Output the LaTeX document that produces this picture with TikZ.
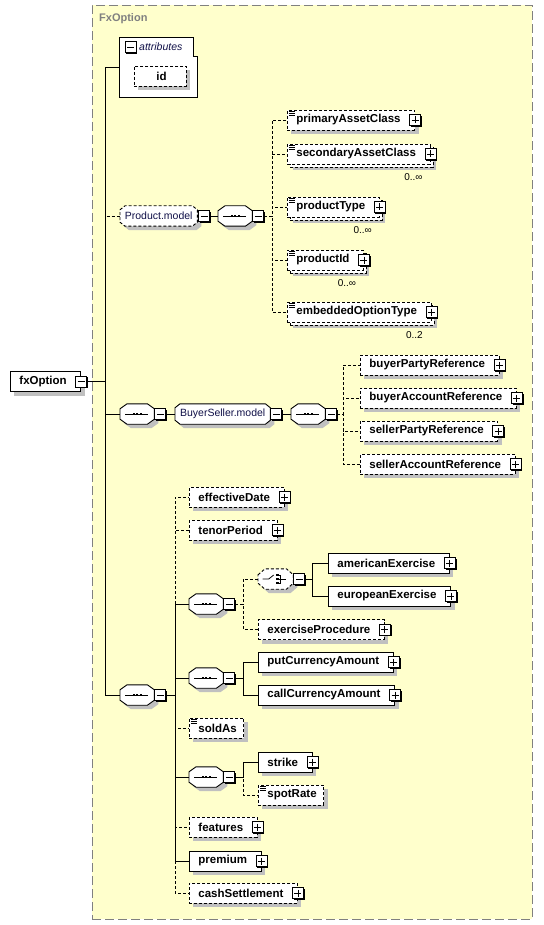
\documentclass[tikz,border=0pt]{standalone}
\usepackage{fontspec}
\setmainfont{Liberation Sans}
\usepackage{tikz}
\usetikzlibrary{shadows,positioning,calc}

\definecolor{typebg}{RGB}{255,255,204}
\definecolor{typeline}{RGB}{128,128,128}
\definecolor{shadowgray}{RGB}{192,192,192}
\definecolor{grpblue}{RGB}{16,16,72}

\pgfdeclarelayer{back}
\pgfdeclarelayer{shape}
\pgfsetlayers{back,shape,main}

\newcommand{\rpad}{7pt}

% octagon behind a compositor / group node: style, node, x cut, y cut
\newcommand{\octa}[4][]{%
  \begin{pgfonlayer}{shape}
    \draw[line,fill=white,shd,#1] ($(#2.north west)+(0,#4)$) -- ($(#2.north west)+(#3,0)$)
      -- ($(#2.north east)+(-#3,0)$) -- ($(#2.north east)+(0,#4)$)
      -- ($(#2.south east)+(0,-#4)$) -- ($(#2.south east)+(-#3,0)$)
      -- ($(#2.south west)+(#3,0)$) -- ($(#2.south west)+(0,-#4)$) -- cycle;
  \end{pgfonlayer}}

% sequence symbol
\newcommand{\seqsym}[1]{%
  \octa{#1}{7}{5}
  \begin{pgfonlayer}{shape}
    \draw[line width=0.8pt] ($(#1.center)+(-12,0)$) -- ($(#1.center)+(11,0)$);
    \foreach \k in {-3.4,0,3.4}
      \fill ($(#1.center)+(\k,0)$) +(-1.1,-1.1) rectangle +(1.1,1.1);
  \end{pgfonlayer}}

% choice symbol
\newcommand{\chsym}[1]{%
  \octa[dsh]{#1}{7}{6}
  \begin{pgfonlayer}{shape}
    \draw[line width=0.8pt] ($(#1.center)+(-13,0)$) -- ($(#1.center)+(-7,0)$) -- ($(#1.center)+(-2,-4)$);
    \foreach \k in {-4,0,4}
      \fill ($(#1.center)+(1.7,\k)$) +(-1.2,-1.2) rectangle +(1.2,1.2);
    \draw[line width=0.8pt] ($(#1.center)+(3,-4)$) -- ($(#1.center)+(5,-4)$) -- ($(#1.center)+(5,4)$) -- ($(#1.center)+(3,4)$);
    \draw[line width=0.8pt] ($(#1.center)+(3,0)$) -- ($(#1.center)+(10,0)$);
  \end{pgfonlayer}}

\tikzset{
  dsh/.style={dash pattern=on 3pt off 2pt},
  line/.style={draw=black,line width=0.9pt},
  optline/.style={line,dsh},
  shd/.style={drop shadow={shadow xshift=4pt,shadow yshift=-4pt,fill=shadowgray,opacity=1}},
  box/.style={rectangle,fill=white,minimum height=20,inner xsep=0pt,inner ysep=0pt,anchor=west,
    line width=0.9pt,font=\fontsize{11.5}{13}\selectfont\bfseries,
    execute at begin node=\hspace*{9pt},execute at end node=\hspace*{\rpad}},
  hasplus/.code={\renewcommand{\rpad}{14pt}},
  req/.style={box,draw,shd},
  opt/.style={box,draw,dsh,shd},
  multi/.style={box,draw,dsh,
    drop shadow={shadow xshift=6pt,shadow yshift=-6pt,fill=shadowgray,opacity=1},
    preaction={draw,dsh,line width=0.9pt,fill=white,transform canvas={shift={(3pt,-3pt)}}}},
  simple/.style={path picture={
    \foreach \k in {1.5,3.5,5.5}
      \draw[solid,line width=0.8pt] (path picture bounding box.north west) ++(1.5,\k) -- ++(6,0);}},
  pmbox/.style={rectangle,draw,fill=white,minimum size=11,inner sep=0pt,line width=0.8pt,
    drop shadow={shadow xshift=1.3pt,shadow yshift=-1.3pt,fill=black,opacity=1}},
  plusb/.style={pmbox,path picture={
    \draw (path picture bounding box.center) ++(-3.5,0) -- ++(7,0);
    \draw (path picture bounding box.center) ++(0,-3.5) -- ++(0,7);}},
  minusb/.style={pmbox,path picture={
    \draw (path picture bounding box.center) ++(-3.5,0) -- ++(7,0);}},
  comp/.style={rectangle,minimum width=34,minimum height=20,inner sep=0pt,anchor=west},
  grp/.style={comp,minimum width=77,text=grpblue,font=\fontsize{10.5}{12}\selectfont},
  card/.style={inner sep=0pt,font=\fontsize{10}{12}\selectfont},
  typebox/.style={draw=typeline,fill=typebg,line width=0.9pt,dash pattern=on 9pt off 4pt,
    minimum width=440,minimum height=914,inner sep=0pt}
}

\begin{document}
\begin{tikzpicture}[x=1pt,y=-1pt]
  \useasboundingbox (0,0) rectangle (543,925);

  % complex type
  \begin{pgfonlayer}{back}
    \node[typebox] (fxo) at (312,462) {};
  \end{pgfonlayer}
  \node[anchor=west,inner sep=0pt,text=typeline,font=\fontsize{11}{13}\selectfont\bfseries] (fxo-l) at (99,19) {FxOption};

  % root element
  \node[req,hasplus] (fx) at (10,381.5) {fxOption};
  \node[minusb] (fx-x) at (fx.east) {};

  % attributes
  \node[minimum width=77,minimum height=59,inner sep=0pt] (attr) at (158.5,67.5) {};
  \draw[line,fill=white] (attr.south west) |- ($(attr.north east)+(-4,0)$) |- ($(attr.north east)+(0,19)$) -- (attr.south east) -- cycle;
  \node[minusb] (attr-x) at (130.5,47) {};
  \node[anchor=west,inner sep=0pt,text=grpblue,font=\fontsize{10.5}{12}\selectfont\itshape] (attr-l) at (139,47) {attributes};
  \node[opt,minimum width=52] (id) at (134,76) {id};

  % Product.model
  \node[grp] (pm) at (120,216) {Product.model};
  \octa[dsh]{pm}{5}{4}
  \node[minusb,anchor=west] (pm-x) at ([xshift=1pt]pm.east) {};
  \node[comp] (pms) at (218,216) {};
  \seqsym{pms}
  \node[minusb,anchor=west] (pms-x) at (pms.east) {};
  \coordinate (pms-t) at (272,216);

  \node[opt,simple,hasplus] (pac) at (287,120) {primaryAssetClass};
  \node[plusb] (pac-x) at (pac.east) {};
  \node[multi,simple,hasplus] (sac) at (287,154) {secondaryAssetClass};
  \node[plusb] (sac-x) at (sac.east) {};
  \node[card] (sac-c) at ($(sac.south east)+(-17,12.5)$) {0..∞};
  \node[multi,simple,hasplus] (pt) at (287,207) {productType};
  \node[plusb] (pt-x) at (pt.east) {};
  \node[card] (pt-c) at ($(pt.south east)+(-17,12.5)$) {0..∞};
  \node[multi,simple,hasplus] (pid) at (287,260) {productId};
  \node[plusb] (pid-x) at (pid.east) {};
  \node[card] (pid-c) at ($(pid.south east)+(-17,12.5)$) {0..∞};
  \node[multi,simple,hasplus] (eot) at (287,312) {embeddedOptionType};
  \node[plusb] (eot-x) at (eot.east) {};
  \node[card] (eot-c) at ($(eot.south east)+(-17,12.5)$) {0..2};

  % BuyerSeller.model
  \node[comp] (bs) at (120,414) {};
  \seqsym{bs}
  \node[minusb,anchor=west] (bs-x) at (bs.east) {};
  \node[grp,minimum width=95] (bsm) at (175,414) {BuyerSeller.model};
  \octa{bsm}{5}{4}
  \node[minusb,anchor=west] (bsm-x) at (bsm.east) {};
  \node[comp] (bss) at (291,414) {};
  \seqsym{bss}
  \node[minusb,anchor=west] (bss-x) at (bss.east) {};
  \coordinate (bss-t) at (343,414);

  \node[opt,hasplus] (bpr) at (360,365) {buyerPartyReference};
  \node[plusb] (bpr-x) at (bpr.east) {};
  \node[opt,hasplus] (bar) at (360,398) {buyerAccountReference};
  \node[plusb] (bar-x) at (bar.east) {};
  \node[opt,hasplus] (spr) at (360,431) {sellerPartyReference};
  \node[plusb] (spr-x) at (spr.east) {};
  \node[opt,hasplus] (sar) at (360,464) {sellerAccountReference};
  \node[plusb] (sar-x) at (sar.east) {};

  % option terms
  \node[comp] (sq) at (120,695) {};
  \seqsym{sq}
  \node[minusb,anchor=west] (sq-x) at (sq.east) {};
  \coordinate (sq-t) at (175,695);

  \node[opt,hasplus] (ed) at (189,497) {effectiveDate};
  \node[plusb] (ed-x) at (ed.east) {};
  \node[opt,hasplus] (tp) at (189,530) {tenorPeriod};
  \node[plusb] (tp-x) at (tp.east) {};

  \node[comp] (sqa) at (189,604) {};
  \seqsym{sqa}
  \node[minusb,anchor=west] (sqa-x) at (sqa.east) {};
  \coordinate (sqa-t) at (243,604);
  \node[comp,minimum width=35] (ch) at (258,579) {};
  \chsym{ch}
  \node[minusb,anchor=west] (ch-x) at (ch.east) {};
  \coordinate (ch-t) at (312,579);
  \node[req,hasplus] (ae) at (328,563) {americanExercise};
  \node[plusb] (ae-x) at (ae.east) {};
  \node[req,hasplus] (ee) at (328,596) {europeanExercise};
  \node[plusb] (ee-x) at (ee.east) {};
  \node[opt,hasplus] (ep) at (258,629.5) {exerciseProcedure};
  \node[plusb] (ep-x) at (ep.east) {};

  \node[comp] (sqb) at (189,678) {};
  \seqsym{sqb}
  \node[minusb,anchor=west] (sqb-x) at (sqb.east) {};
  \coordinate (sqb-t) at (243,678);
  \node[req,hasplus] (pca) at (258,662) {putCurrencyAmount};
  \node[plusb] (pca-x) at (pca.east) {};
  \node[req,hasplus] (cca) at (258,695) {callCurrencyAmount};
  \node[plusb] (cca-x) at (cca.east) {};

  \node[opt,simple] (sa) at (189,728) {soldAs};

  \node[comp] (sqc) at (189,777) {};
  \seqsym{sqc}
  \node[minusb,anchor=west] (sqc-x) at (sqc.east) {};
  \coordinate (sqc-t) at (243,777);
  \node[req,hasplus] (sk) at (258,762) {strike};
  \node[plusb] (sk-x) at (sk.east) {};
  \node[opt,simple] (sr) at (258,795) {spotRate};

  \node[opt,hasplus] (ft) at (189,827) {features};
  \node[plusb] (ft-x) at (ft.east) {};
  \node[req,hasplus] (pr) at (189,861) {premium};
  \node[plusb] (pr-x) at (pr.east) {};
  \node[opt,hasplus] (cs) at (189,893) {cashSettlement};
  \node[plusb] (cs-x) at (cs.east) {};

  % connectors
  \coordinate (fx-t) at (105,381.5);
  \draw[optline] (fx-x.east) -- (fx-t) |- (pm.west);
  \draw[line] (fx-x.east) -- (fx-t) |- (attr.west);
  \draw[line] (fx-x.east) -- (fx-t) |- (bs.west);
  \draw[line] (fx-x.east) -- (fx-t) |- (sq.west);

  \draw[line] (pm-x.east) -- (pms.west);
  \foreach \c in {pac,sac,pt,pid,eot}
    \draw[optline] (pms-x.east) -- (pms-t) |- (\c.west);

  \draw[line] (bs-x.east) -- (bsm.west);
  \draw[line] (bsm-x.east) -- (bss.west);
  \foreach \c in {bpr,bar,spr,sar}
    \draw[optline] (bss-x.east) -- (bss-t) |- (\c.west);

  \foreach \c in {ed,tp,sa,ft,cs}
    \draw[optline] (sq-x.east) -- (sq-t) |- (\c.west);
  \foreach \c in {sqa,sqb,sqc,pr}
    \draw[line] (sq-x.east) -- (sq-t) |- (\c.west);

  \foreach \c in {ch,ep}
    \draw[optline] (sqa-x.east) -- (sqa-t) |- (\c.west);
  \foreach \c in {ae,ee}
    \draw[line] (ch-x.east) -- (ch-t) |- (\c.west);
  \foreach \c in {pca,cca}
    \draw[line] (sqb-x.east) -- (sqb-t) |- (\c.west);
  \draw[optline] (sqc-x.east) -- (sqc-t) |- (sr.west);
  \draw[line] (sqc-x.east) -- (sqc-t) |- (sk.west);
\end{tikzpicture}
\end{document}
